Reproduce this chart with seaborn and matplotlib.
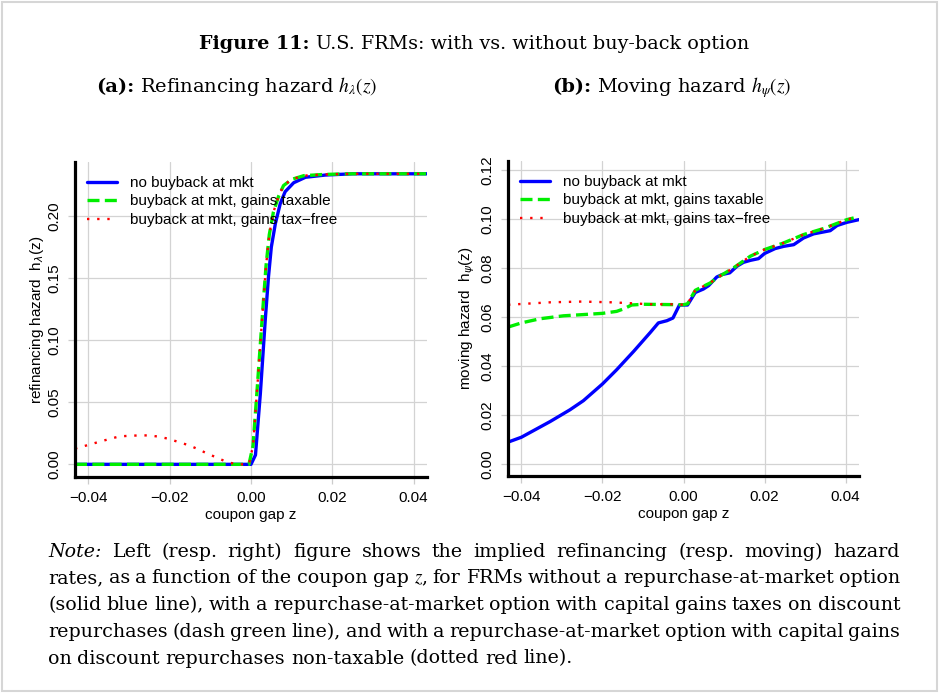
import numpy as np
import pandas as pd
import seaborn as sns
import matplotlib.pyplot as plt
from matplotlib.patches import Rectangle

# refinancing hazard (left panel)
z_ref_nobuy = [-0.0433, -0.001, 0.0, 0.0011, 0.0023, 0.0035, 0.0043, 0.005, 0.006,
               0.0072, 0.0084, 0.0105, 0.0134, 0.0183, 0.025, 0.0433]
h_ref_nobuy = [0.0, 0.0, 0.0, 0.0075, 0.057, 0.116, 0.151, 0.175, 0.194,
               0.210, 0.2196, 0.2268, 0.2312, 0.233, 0.234, 0.234]

z_ref_tax = [-0.0433, -0.0005, 0.0005, 0.0015, 0.0028, 0.0037, 0.0045, 0.0055, 0.0068,
             0.008, 0.010, 0.013, 0.018, 0.025, 0.0433]
h_ref_tax = [0.0, 0.0, 0.015, 0.06, 0.12, 0.16, 0.185, 0.203, 0.216,
             0.2245, 0.2295, 0.2325, 0.2335, 0.234, 0.234]

z_ref_free = [-0.0433, -0.0396, -0.0373, -0.0348, -0.0324, -0.0299, -0.0274, -0.025,
              -0.0225, -0.0201, -0.0176, -0.0152, -0.0129, -0.0107, -0.0084, -0.0061,
              -0.0036, -0.0005, 0.0005, 0.0015, 0.0028, 0.0037, 0.0045, 0.0055, 0.0068,
              0.008, 0.010, 0.013, 0.018, 0.025, 0.0433]
h_ref_free = [0.0127, 0.016, 0.0182, 0.0204, 0.0225, 0.023, 0.0233, 0.0233,
              0.0222, 0.0204, 0.0177, 0.0153, 0.012, 0.0086, 0.0054, 0.0021,
              0.0, 0.0, 0.015, 0.06, 0.12, 0.16, 0.185, 0.203, 0.216,
              0.2245, 0.2295, 0.2325, 0.2335, 0.234, 0.234]

# moving hazard (right panel)
z_mov_nobuy = [-0.0433, -0.040, -0.0329, -0.028, -0.0247, -0.020, -0.0165, -0.0123,
               -0.0082, -0.0062, -0.0041, -0.0026, -0.001, 0.001, 0.0029, 0.0049,
               0.0062, 0.0082, 0.0095, 0.0114, 0.0132, 0.0148, 0.0165, 0.0185, 0.020,
               0.0226, 0.0247, 0.0272, 0.0296, 0.0321, 0.0362, 0.0379, 0.0403, 0.0433]
h_mov_nobuy = [0.0090, 0.0110, 0.0174, 0.0222, 0.0259, 0.0327, 0.0385, 0.046,
               0.0537, 0.0576, 0.0585, 0.0596, 0.0649, 0.0649, 0.070, 0.0714,
               0.0728, 0.0763, 0.0773, 0.0780, 0.0807, 0.0823, 0.0831, 0.0838, 0.0859,
               0.0879, 0.0888, 0.0895, 0.0922, 0.0939, 0.0952, 0.0973, 0.0986, 0.0997]

z_mov_tax = [-0.0433, -0.040, -0.0354, -0.0296, -0.0247, -0.020, -0.0165, -0.0148,
             -0.0128, -0.0099, 0.0, 0.001, 0.0029, 0.0066, 0.0082, 0.0123, 0.0165,
             0.020, 0.0247, 0.0296, 0.0346, 0.0403, 0.042]
h_mov_tax = [0.0559, 0.0576, 0.0593, 0.0605, 0.0610, 0.0615, 0.0623, 0.0633,
             0.0649, 0.0652, 0.065, 0.0654, 0.0709, 0.0739, 0.0759, 0.080, 0.0848,
             0.0875, 0.0902, 0.0936, 0.0961, 0.0997, 0.1004]

z_mov_free = [-0.0433, -0.0329, -0.0251, -0.0177, -0.0128, -0.0082, -0.0025, 0.0,
              0.001, 0.0029, 0.0066, 0.0082, 0.0123, 0.0165, 0.020, 0.0247, 0.0296,
              0.0346, 0.0403, 0.042]
h_mov_free = [0.065, 0.066, 0.0663, 0.066, 0.0656, 0.0652, 0.0652, 0.065,
              0.0654, 0.0709, 0.0739, 0.0759, 0.080, 0.0848, 0.0875, 0.0902, 0.0936,
              0.0961, 0.0997, 0.1004]

series_labels = ["no buyback at mkt", "buyback at mkt, gains taxable",
                 "buyback at mkt, gains tax\u2212free"]
x_ticks = [-0.04, -0.02, 0.0, 0.02, 0.04]
x_tick_labels = ["\u22120.04", "\u22120.02", "0.00", "0.02", "0.04"]
y_ticks_ref = [0.0, 0.05, 0.10, 0.15, 0.20]
y_tick_labels_ref = ["0.00", "0.05", "0.10", "0.15", "0.20"]
y_ticks_mov = [0.0, 0.02, 0.04, 0.06, 0.08, 0.10, 0.12]
y_tick_labels_mov = ["0.00", "0.02", "0.04", "0.06", "0.08", "0.10", "0.12"]

title_bold = "Figure 11:"
title_rest = "U.S. FRMs: with vs. without buy-back option"
note_lines = [
    "Note: Left (resp.  right) figure shows the implied refinancing (resp.  moving) hazard",
    "rates, as a function of the coupon gap $z$, for FRMs without a repurchase-at-market option",
    "(solid blue line), with a repurchase-at-market option with capital gains taxes on discount",
    "repurchases (dash green line), and with a repurchase-at-market option with capital gains",
    "on discount repurchases non-taxable (dotted red line).",
]

sns.set_style("white")
plt.rcParams['font.family'] = ['Liberation Sans', 'DejaVu Sans']
plt.rcParams['text.color'] = 'black'
plt.rcParams['axes.labelcolor'] = 'black'

W, H, DPI = 940, 694, 100
fig = plt.figure(figsize=(W / DPI, H / DPI), dpi=DPI)
fig.patch.set_facecolor('white')

SERIF = 'DejaVu Serif'
styles = [
    dict(color='#0000ff', lw=2.4, linestyle='-'),
    dict(color='#00ee00', lw=2.4, linestyle=(0, (3.6, 1.6))),
    dict(color='#ff0000', lw=1.7, linestyle=(0, (1, 3.3))),
]


def panel(ax, data, yticks, ylabels, ylim, ylabel, lpad):
    for (z, h), st, lab in zip(data, styles, series_labels):
        sns.lineplot(x=z, y=h, ax=ax, sort=False, estimator=None, label=lab, **st)
    ax.set_xlim(-0.0433, 0.0433)
    ax.set_ylim(*ylim)
    ax.set_xticks(x_ticks)
    ax.set_xticklabels(x_tick_labels)
    ax.set_yticks(yticks)
    ax.set_yticklabels(ylabels, rotation=90, va='center')
    ax.grid(True, color='#d3d3d3', lw=0.9)
    ax.set_axisbelow(True)
    for s in ['top', 'right']:
        ax.spines[s].set_visible(False)
    for s in ['left', 'bottom']:
        ax.spines[s].set_color('black')
        ax.spines[s].set_linewidth(2.3)
        ax.spines[s].set_capstyle('projecting')
    ax.tick_params(axis='both', length=5, width=0.9, color='#cccccc', labelcolor='black',
                   labelsize=11, pad=4.8, left=True, bottom=True)
    ax.set_xlabel("coupon gap z", fontsize=11, labelpad=2.5)
    ax.set_ylabel(ylabel, fontsize=11, labelpad=lpad)
    leg = ax.legend(loc='upper left', bbox_to_anchor=(0.035, 0.956), frameon=False,
                    fontsize=11, borderpad=0, borderaxespad=0, handlelength=1.95,
                    handletextpad=0.85, labelspacing=0.3)
    for t in leg.get_texts():
        t.set_color('black')


axL = fig.add_axes([75 / W, 1 - 477 / H, 352 / W, 315 / H])
panel(axL, [(z_ref_nobuy, h_ref_nobuy), (z_ref_tax, h_ref_tax), (z_ref_free, h_ref_free)],
      y_ticks_ref, y_tick_labels_ref, (-0.0102, 0.2435),
      r"refinancing hazard  h$_{\lambda}$(z)", 0.8)

axR = fig.add_axes([508 / W, 1 - 476 / H, 351 / W, 315 / H])
panel(axR, [(z_mov_nobuy, h_mov_nobuy), (z_mov_tax, h_mov_tax), (z_mov_free, h_mov_free)],
      y_ticks_mov, y_tick_labels_mov, (-0.0048, 0.1236),
      r"moving hazard  h$_{\psi}$(z)", 2.5)

renderer = fig.canvas.get_renderer()


def serif_text(x_px, base_px, s, size, **kw):
    return fig.text(x_px / W, 1 - base_px / H, s, fontsize=size, family=SERIF,
                    math_fontfamily='stix', va='baseline', color='black', **kw)


def centered_parts(parts, cx, base, size):
    arts = [serif_text(0, base, s, size, fontweight=wt) for s, wt in parts]
    widths = [a.get_window_extent(renderer).width for a in arts]
    sp = 0.3 * size * DPI / 72
    x = cx - (sum(widths) + sp * (len(arts) - 1)) / 2
    for a, w in zip(arts, widths):
        a.set_x(x / W)
        x += w + sp


centered_parts([(title_bold, 'bold'), (title_rest, 'normal')], 474, 49, 13.8)
centered_parts([("(a):", 'bold'), (r"Refinancing hazard $h_\lambda(z)$", 'normal')], 237, 92, 14)
centered_parts([("(b):", 'bold'), (r"Moving hazard $h_\psi(z)$", 'normal')], 671.5, 92, 14)

# justified note below the panels
note_size = 13.7
x0, x1 = 48, 900
for i, line in enumerate(note_lines):
    base = 556.7 + i * 26.7
    words = line.split()
    arts = []
    for w in words:
        style = 'italic' if w == "Note:" else 'normal'
        arts.append(serif_text(0, base, w, note_size, fontstyle=style))
    widths = [a.get_window_extent(renderer).width for a in arts]
    if i < len(note_lines) - 1:
        sp = (x1 - x0 - sum(widths)) / (len(arts) - 1)
    else:
        sp = 0.3 * note_size * DPI / 72
    x = x0
    for a, w in zip(arts, widths):
        a.set_x(x / W)
        x += w + sp

fig.add_artist(Rectangle((2 / W, 3 / H), 935 / W, 689 / H, transform=fig.transFigure,
                         fill=False, edgecolor='#d6d6d6', lw=1.5))

fig.savefig("out.png", dpi=DPI)
